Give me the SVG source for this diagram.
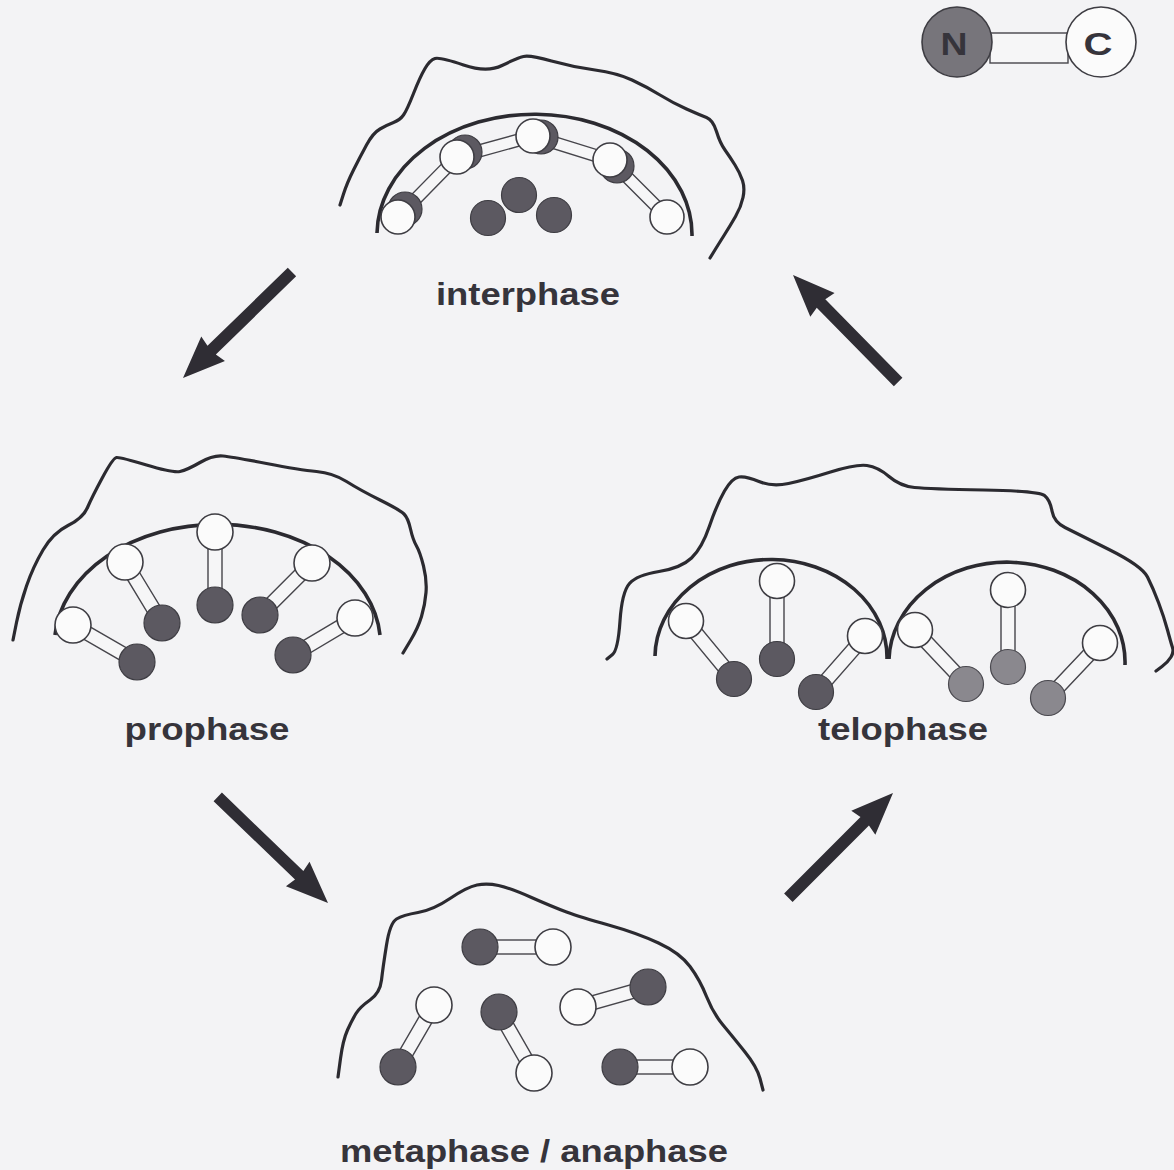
<svg xmlns="http://www.w3.org/2000/svg" width="1174" height="1170" viewBox="0 0 1174 1170">
  <style>
    .mem { fill: none; stroke: #2b2a30; stroke-width: 3.2; stroke-linecap: round; stroke-linejoin: round; }
    .nuc { fill: none; stroke: #2b2a30; stroke-width: 3.6; stroke-linecap: butt; }
    .bond { fill: #f6f6f7; stroke: #46454b; stroke-width: 1.4; }
    .c { fill: #fbfbfb; stroke: #3e3d43; stroke-width: 1.6; }
    .n { fill: #5c5961; stroke: #3e3d43; stroke-width: 1.2; }
    .n2 { fill: #8a888e; stroke: #4a494f; stroke-width: 1.2; }
    .lbl { font-family: "Liberation Sans", Arial, sans-serif; font-weight: bold; font-size: 31px; fill: #36343b; text-anchor: middle; }
    .arrow { fill: #2f2d34; }
  </style>
  <rect width="1174" height="1170" fill="#f3f3f5"/>

  <!-- key: N-terminal domain (grey) joined to C-terminal domain (white) -->
  <g id="legend">
    <rect class="bond" x="990" y="33" width="78" height="30"/>
    <circle cx="957" cy="42" r="35" fill="#77757b" stroke="#3e3d43" stroke-width="1.6"/>
    <circle class="c" cx="1101" cy="42" r="35"/>
    <text class="lbl" x="954" y="55" textLength="27" lengthAdjust="spacingAndGlyphs">N</text>
    <text class="lbl" x="1098" y="55" textLength="29" lengthAdjust="spacingAndGlyphs">C</text>
  </g>

  <!-- interphase: polymerised lamina under the nuclear envelope -->
  <g id="interphase">
    <path class="mem" d="M340,205 L343.5,194 Q347,183 353.5,170 Q360,157 366.5,145 Q373,133 380,129 Q387,125 393.5,122.5 Q400,120 403.5,115 Q407,110 413.5,93.5 Q420,77 425,68.5 Q430,60 435,58.5 Q440,57 463.5,65 Q487,73 502,65.5 Q517,58 523.5,56.5 Q530,55 551.5,61 Q573,67 595,70 Q617,73 632,80 Q647,87 660,95 Q673,103 686.5,109 Q700,115 706.5,117.5 Q713,120 716.5,131.5 Q720,143 725,150 Q730,157 735,165 Q740,173 742.5,180.5 Q745,188 743,197.5 Q741,207 735.5,216.5 Q730,226 724,235.5 Q718,245 714,251.5 L710,258"/>
    <path class="nuc" d="M377,233 A157,120 0 0 1 692,236"/>
    <g class="bond">
      <rect transform="translate(398,217) rotate(-45.5)" x="0" y="-6" width="84" height="12"/>
      <rect transform="translate(457,157) rotate(-15.4)" x="0" y="-6" width="79" height="12"/>
      <rect transform="translate(533,136) rotate(17.3)" x="0" y="-6" width="81" height="12"/>
      <rect transform="translate(610,160) rotate(45)" x="0" y="-6" width="81" height="12"/>
    </g>
    <circle class="n" cx="405" cy="209" r="17"/>
    <circle class="n" cx="465" cy="152" r="17"/>
    <circle class="n" cx="541" cy="137" r="17"/>
    <circle class="n" cx="617" cy="166" r="17"/>
    <circle class="c" cx="398" cy="217" r="17"/>
    <circle class="c" cx="457" cy="157" r="17"/>
    <circle class="c" cx="533" cy="136" r="17"/>
    <circle class="c" cx="610" cy="160" r="17"/>
    <circle class="c" cx="667" cy="217" r="17"/>
    <circle class="n" cx="519" cy="195" r="17.5"/>
    <circle class="n" cx="488" cy="218" r="17.5"/>
    <circle class="n" cx="554" cy="215" r="17.5"/>
    <text class="lbl" x="528" y="305" textLength="184" lengthAdjust="spacingAndGlyphs">interphase</text>
  </g>

  <!-- prophase: lamina starts to come apart -->
  <g id="prophase">
    <path class="mem" d="M13,640 L16.5,622.5 Q20,605 26.5,586 Q33,567 43,550 Q53,533 68,525.5 Q83,518 87.5,507.5 Q92,497 102.5,477.5 Q113,458 116.5,457.5 Q120,457 146.5,465 Q173,473 180,471.5 Q187,470 200,462.5 Q213,455 223,456 Q233,457 266.5,463.5 Q300,470 316.5,471.5 Q333,473 346.5,481.5 Q360,490 380,500 Q400,510 404,514 Q408,518 410.5,529 Q413,540 416.5,546 Q420,552 423.5,566 Q427,580 426,592.5 Q425,605 421.5,616.5 Q418,628 410.5,640.5 L403,653"/>
    <path class="nuc" d="M55,635 A163,120 0 0 1 380,635"/>
    <g class="bond">
      <rect transform="translate(73,625) rotate(30)" x="0" y="-7" width="74" height="14"/>
      <rect transform="translate(125,562) rotate(58.8)" x="0" y="-7" width="71" height="14"/>
      <rect transform="translate(215,532) rotate(90)" x="0" y="-7" width="73" height="14"/>
      <rect transform="translate(312,563) rotate(135)" x="0" y="-7" width="73" height="14"/>
      <rect transform="translate(355,618) rotate(149.2)" x="0" y="-7" width="72" height="14"/>
    </g>
    <circle class="c" cx="73" cy="625" r="18"/>
    <circle class="n" cx="137" cy="662" r="18"/>
    <circle class="c" cx="125" cy="562" r="18"/>
    <circle class="n" cx="162" cy="623" r="18"/>
    <circle class="c" cx="215" cy="532" r="18"/>
    <circle class="n" cx="215" cy="605" r="18"/>
    <circle class="c" cx="312" cy="563" r="18"/>
    <circle class="n" cx="260" cy="615" r="18"/>
    <circle class="c" cx="355" cy="618" r="18"/>
    <circle class="n" cx="293" cy="655" r="18"/>
    <text class="lbl" x="207" y="740" textLength="165" lengthAdjust="spacingAndGlyphs">prophase</text>
  </g>

  <!-- metaphase / anaphase: free dimers in the cytoplasm -->
  <g id="metaphase">
    <path class="mem" d="M338,1077 L340.5,1058.5 Q343,1040 347.5,1030 Q352,1020 356,1013.5 Q360,1007 370,1000 Q380,993 381.5,980 Q383,967 386.5,945 Q390,923 396.5,919 Q403,915 418,912.5 Q433,910 450,898.5 Q467,887 477,885 Q487,883 498.5,885.5 Q510,888 531.5,897.5 Q553,907 566.5,912 Q580,917 608.5,925 Q637,933 658.5,943 Q680,953 690,966.5 Q700,980 706.5,996.5 Q713,1013 723,1025 Q733,1037 745,1052 Q757,1067 760,1078.5 L763,1090"/>
    <g class="bond">
      <rect transform="translate(480,947) rotate(0)" x="0" y="-7" width="73" height="14"/>
      <rect transform="translate(434,1005) rotate(120.1)" x="0" y="-7" width="72" height="14"/>
      <rect transform="translate(499,1012) rotate(60.2)" x="0" y="-7" width="70" height="14"/>
      <rect transform="translate(578,1007) rotate(-15.9)" x="0" y="-7" width="73" height="14"/>
      <rect transform="translate(620,1067) rotate(0)" x="0" y="-7" width="70" height="14"/>
    </g>
    <circle class="n" cx="480" cy="947" r="18"/>
    <circle class="c" cx="553" cy="947" r="18"/>
    <circle class="c" cx="434" cy="1005" r="18"/>
    <circle class="n" cx="398" cy="1067" r="18"/>
    <circle class="n" cx="499" cy="1012" r="18"/>
    <circle class="c" cx="534" cy="1073" r="18"/>
    <circle class="c" cx="578" cy="1007" r="18"/>
    <circle class="n" cx="648" cy="987" r="18"/>
    <circle class="n" cx="620" cy="1067" r="18"/>
    <circle class="c" cx="690" cy="1067" r="18"/>
    <text class="lbl" x="534" y="1162" textLength="388" lengthAdjust="spacingAndGlyphs">metaphase / anaphase</text>
  </g>

  <!-- telophase: lamina re-forms round the two daughter nuclei -->
  <g id="telophase">
    <path class="mem" d="M607,659 L612.5,654.5 Q618,650 620,621 Q622,592 629.5,583.5 Q637,575 659,571.5 Q681,568 691.5,558 Q702,548 709.5,526 Q717,504 724.5,491 Q732,478 739,477 Q746,476 759,481.5 Q772,487 788.5,483.5 Q805,480 830.5,472 Q856,464 867,465.5 Q878,467 889,476.5 Q900,486 914.5,487.5 Q929,489 984,490 Q1039,491 1044.5,495.5 Q1050,500 1052,511 Q1054,522 1065,527.5 Q1076,533 1109,549.5 Q1142,566 1147.5,577 Q1153,588 1158.5,602.5 Q1164,617 1167.5,630 Q1171,643 1172.5,647.5 Q1174,652 1171,657 Q1168,662 1162,666.5 L1156,671"/>
    <path class="nuc" d="M655,656 A116,98 0 0 1 887,659"/>
    <path class="nuc" d="M889,659 A117,99 0 0 1 1125,665"/>
    <g class="bond">
      <rect transform="translate(686,621) rotate(50.4)" x="0" y="-7" width="75" height="14"/>
      <rect transform="translate(777,581) rotate(90)" x="0" y="-7" width="78" height="14"/>
      <rect transform="translate(865,636) rotate(131.2)" x="0" y="-7" width="74" height="14"/>
      <rect transform="translate(915,630) rotate(46.6)" x="0" y="-7" width="74" height="14"/>
      <rect transform="translate(1008,590) rotate(90)" x="0" y="-7" width="77" height="14"/>
      <rect transform="translate(1100,643) rotate(133.4)" x="0" y="-7" width="76" height="14"/>
    </g>
    <circle class="c" cx="686" cy="621" r="17.5"/>
    <circle class="n" cx="734" cy="679" r="17.5"/>
    <circle class="c" cx="777" cy="581" r="17.5"/>
    <circle class="n" cx="777" cy="659" r="17.5"/>
    <circle class="c" cx="865" cy="636" r="17.5"/>
    <circle class="n" cx="816" cy="692" r="17.5"/>
    <circle class="c" cx="915" cy="630" r="17.5"/>
    <circle class="n2" cx="966" cy="684" r="17.5"/>
    <circle class="c" cx="1008" cy="590" r="17.5"/>
    <circle class="n2" cx="1008" cy="667" r="17.5"/>
    <circle class="c" cx="1100" cy="643" r="17.5"/>
    <circle class="n2" cx="1048" cy="698" r="17.5"/>
    <text class="lbl" x="903" y="740" textLength="170" lengthAdjust="spacingAndGlyphs">telophase</text>
  </g>

  <!-- cycle arrows; each drawn with its tip at the local origin pointing along +x -->
  <g id="connectors" class="arrow">
    <polygon transform="translate(183,378) rotate(135.8)" points="0,0 -42,-17 -40,-6 -152,-6 -152,6 -40,6 -42,17"/>
    <polygon transform="translate(328,903) rotate(43.9)" points="0,0 -42,-17 -40,-6 -153,-6 -153,6 -40,6 -42,17"/>
    <polygon transform="translate(893,793) rotate(-45)" points="0,0 -42,-17 -40,-6 -148,-6 -148,6 -40,6 -42,17"/>
    <polygon transform="translate(793,275) rotate(-134.5)" points="0,0 -42,-17 -40,-6 -150,-6 -150,6 -40,6 -42,17"/>
  </g>
</svg>
